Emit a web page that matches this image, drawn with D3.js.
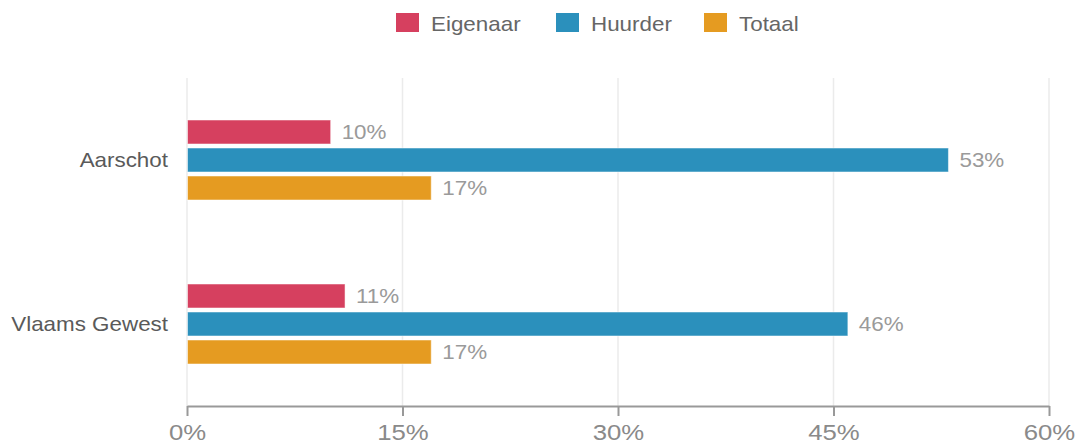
<!DOCTYPE html>
<html>
<head>
<meta charset="utf-8">
<script src="https://cdn.jsdelivr.net/npm/d3@7"></script>
<style>
  html, body { margin: 0; padding: 0; background: #fff; }
  svg { display: block; font-family: "Liberation Sans", Arial, sans-serif; }
</style>
</head>
<body>
<svg id="chart" width="1081" height="446"></svg>
<script>
const categories = ["Aarschot", "Vlaams Gewest"];
const seriesNames = ["Eigenaar", "Huurder", "Totaal"];
const seriesColors = ["#d6405f", "#2b90bc", "#e59b21"];
const eigenaar = [10, 11];
const huurder = [53, 46];
const totaal = [17, 17];
const tickValues = [0, 15, 30, 45, 60];

(function () {
const seriesValues = [eigenaar, huurder, totaal];
const stretch = 1.12;

const svg = d3.select("#chart");
const mLeft = 187, mRight = 1049, mTop = 78, mBottom = 406;

const x = d3.scaleLinear().domain([0, 60]).range([mLeft, mRight]);
const y = d3.scaleBand().domain(categories).range([mTop, mBottom]).padding(0);
const color = d3.scaleOrdinal().domain(seriesNames).range(seriesColors);

// gridlines
svg.append("g").selectAll("line").data(tickValues).join("line")
  .attr("x1", d => x(d)).attr("x2", d => x(d))
  .attr("y1", mTop).attr("y2", mBottom)
  .attr("stroke", "#ebebeb").attr("stroke-width", 1.5);

// bars
const groupH = 80;
const inner = d3.scaleBand().domain(seriesNames).range([0, groupH]).paddingInner(0.143).paddingOuter(0);

const rows = [];
categories.forEach((c, ci) => {
  seriesNames.forEach((s, si) => rows.push({ cat: c, series: s, value: seriesValues[si][ci] }));
});

const barY = d => y(d.cat) + y.bandwidth() / 2 - groupH / 2 + inner(d.series);

const g = svg.append("g");
g.selectAll("rect").data(rows).join("rect")
  .attr("x", x(0) + 0.5)
  .attr("y", barY)
  .attr("width", d => x(d.value) - x(0) - 0.5)
  .attr("height", inner.bandwidth())
  .attr("fill", d => color(d.series))
  .attr("stroke", "rgba(255,255,255,0.5)")
  .attr("stroke-width", 1);

// value labels
g.selectAll("text.val").data(rows).join("text")
  .attr("class", "val")
  .attr("transform", d => `translate(${x(d.value) + 11},${barY(d) + inner.bandwidth() / 2}) scale(${stretch},1)`)
  .attr("dy", "0.35em")
  .attr("font-size", 20)
  .attr("fill", "#9a9a9a")
  .text(d => d.value + "%");

// category labels
svg.append("g").selectAll("text").data(categories).join("text")
  .attr("transform", d => `translate(168,${y(d) + y.bandwidth() / 2}) scale(${stretch},1)`)
  .attr("dy", "0.35em")
  .attr("text-anchor", "end")
  .attr("font-size", 20)
  .attr("fill", "#5a5a5a")
  .text(d => d);

// x axis
const axis = svg.append("g").attr("transform", `translate(0,${mBottom})`)
  .call(d3.axisBottom(x).tickValues(tickValues).tickSize(10).tickSizeOuter(0).tickFormat(d => d + "%"));
axis.select(".domain").attr("stroke", "#999").attr("stroke-width", 2);
axis.selectAll(".tick line").attr("stroke", "#999").attr("stroke-width", 2);
axis.selectAll(".tick text")
  .attr("font-size", 23)
  .attr("font-family", "Liberation Sans, Arial, sans-serif")
  .attr("fill", "#8a8a8a")
  .attr("y", 0)
  .attr("dy", 0)
  .attr("transform", `translate(0,34) scale(${stretch},1)`);

// legend
const legendX = [396, 556, 704];
const legend = svg.append("g");
const items = legend.selectAll("g").data(seriesNames).join("g")
  .attr("transform", (d, i) => `translate(${legendX[i]},13)`);
items.append("rect")
  .attr("width", 23).attr("height", 19)
  .attr("fill", d => color(d));
items.append("text")
  .attr("transform", `translate(35,18) scale(${stretch},1)`)
  .attr("font-size", 20)
  .attr("fill", "#666")
  .text(d => d);
})();
</script>
</body>
</html>
